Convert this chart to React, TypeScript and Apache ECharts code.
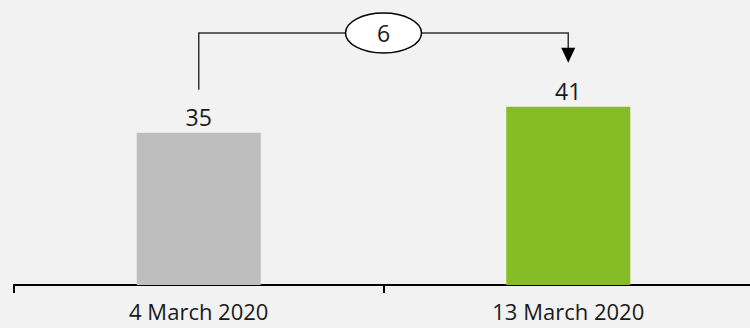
import React, { useEffect, useRef } from "react";
import * as echarts from "echarts";

const categories: string[] = ["4 March 2020", "13 March 2020"];
const values: number[] = [35, 41];
const barColors: string[] = ["#bdbebd", "#86bc25"];

const FONT = "'Open Sans', 'Noto Sans', sans-serif";

export default function App() {
  const ref = useRef<HTMLDivElement>(null);
  useEffect(() => {
    if (!ref.current) return;
    const chart = echarts.init(ref.current, undefined, { renderer: "svg" });
    chart.setOption({
      animation: false,
      backgroundColor: "#f2f2f2",
      grid: {
        left: 14,
        width: 739,
        top: 24,
        bottom: 43,
        containLabel: false,
        outerBoundsMode: "none",
      },
      xAxis: {
        type: "category",
        data: categories,
        boundaryGap: true,
        axisLine: { show: true, lineStyle: { color: "#000", width: 2 } },
        axisTick: { show: true, length: 8, lineStyle: { color: "#000", width: 2 } },
        axisLabel: {
          color: "#1a1a1a",
          fontSize: 22,
          lineHeight: 24,
          fontFamily: FONT,
          margin: 14,
        },
      },
      yAxis: { type: "value", min: 0, max: 60, show: false, splitLine: { show: false } },
      series: [
        {
          type: "bar",
          barWidth: 124,
          data: values.map((v, i) => ({ value: v, itemStyle: { color: barColors[i] } })),
          label: {
            show: true,
            position: "top",
            distance: 4,
            color: "#1a1a1a",
            fontSize: 23,
            fontFamily: FONT,
          },
        },
      ],
    });

    const p0 = chart.convertToPixel({ seriesIndex: 0 }, [0, values[0]]) as number[];
    const p1 = chart.convertToPixel({ seriesIndex: 0 }, [1, values[1]]) as number[];
    const lineY = 33;
    const startY = p0[1] - 43;
    const tipY = p1[1] - 44;
    const headH = 15;
    const cx = (p0[0] + p1[0]) / 2;
    const diff = values[1] - values[0];

    chart.setOption({
      graphic: [
        {
          type: "polyline",
          shape: {
            points: [
              [p0[0], startY],
              [p0[0], lineY],
              [p1[0], lineY],
              [p1[0], tipY - headH + 1],
            ],
          },
          style: { stroke: "#333", lineWidth: 1.5, fill: null },
          z: 10,
        },
        {
          type: "polygon",
          shape: {
            points: [
              [p1[0] - 7, tipY - headH],
              [p1[0] + 7, tipY - headH],
              [p1[0], tipY],
            ],
          },
          style: { fill: "#000" },
          z: 10,
        },
        {
          type: "ellipse",
          shape: { cx, cy: lineY, rx: 38, ry: 20 },
          style: { fill: "#fff", stroke: "#000", lineWidth: 1.5 },
          z: 11,
        },
        {
          type: "text",
          x: cx,
          y: lineY,
          style: {
            text: String(diff),
            fontSize: 23,
            fontFamily: FONT,
            fill: "#1a1a1a",
            align: "center",
            verticalAlign: "middle",
          },
          z: 12,
        },
      ],
    });

    return () => chart.dispose();
  }, []);
  return <div ref={ref} style={{ width: 750, height: 328, position: "absolute", left: 0, top: 0 }} />;
}
